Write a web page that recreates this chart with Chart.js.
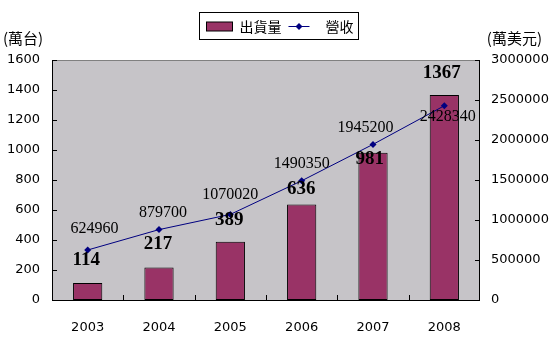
<!DOCTYPE html>
<html>
<head>
<meta charset="utf-8">
<script src="https://cdn.jsdelivr.net/npm/chart.js@4/dist/chart.umd.min.js"></script>
<style>
  html, body { margin: 0; padding: 0; background: #ffffff; }
  #wrap { width: 557px; height: 342px; }
</style>
</head>
<body>
<div id="wrap"><canvas id="chart" width="557" height="342"></canvas></div>
<script>
// Shipments (萬台) and revenue (萬美元) by year
const years = ['2003', '2004', '2005', '2006', '2007', '2008'];
const shipments = [114, 217, 389, 636, 981, 1367];
const revenue = [624960, 879700, 1070020, 1490350, 1945200, 2428340];

// Axis tick values
const shipmentTicks = [0, 200, 400, 600, 800, 1000, 1200, 1400, 1600];
const revenueTicks = [0, 500000, 1000000, 1500000, 2000000, 2500000, 3000000];

const seriesNames = ['出貨量', '營收'];
const unitLeft = '(萬台)';
const unitRight = '(萬美元)';

// Hand placement of the value labels, [dx, dy] in pixels from the mark
const barLabelNudge = [[-1.5, -22.4], [-1.1, -22.9], [-1, -21.1], [-0.4, -15.4], [-3.3, 5.8], [-2.5, -22.3]];
const revenueLabelNudge = [[6.8, -21.2], [3.9, -17.2], [0, -20], [0, -17], [-7.5, -16.5], [3.5, 10.8]];

const BAR_COLOR = '#993366';
const LINE_COLOR = '#000080';
const PLOT_BG = '#C6C4C8';
const CJK_FAMILY = '"Noto Sans CJK TC"';

Chart.defaults.font.family = '"DejaVu Sans"';
Chart.defaults.font.size = 13;
Chart.defaults.color = '#000000';

// Gray plot area behind the marks
const plotBackground = {
  id: 'plotBackground',
  beforeDatasetsDraw(chart) {
    const { ctx, chartArea: a } = chart;
    ctx.save();
    ctx.fillStyle = PLOT_BG;
    ctx.fillRect(a.left, a.top, a.right - a.left, a.bottom - a.top);
    ctx.restore();
  }
};

// Axis lines with inward tick marks
const axisFrame = {
  id: 'axisFrame',
  afterDatasetsDraw(chart) {
    const { ctx, chartArea: a, scales } = chart;
    const t = 5;
    ctx.save();
    ctx.lineWidth = 1;
    ctx.strokeStyle = '#808080';
    ctx.beginPath();
    ctx.moveTo(a.left, a.top + 0.5);
    ctx.lineTo(a.right, a.top + 0.5);
    ctx.stroke();
    ctx.strokeStyle = '#000000';
    ctx.beginPath();
    ctx.moveTo(a.left + 0.5, a.top);
    ctx.lineTo(a.left + 0.5, a.bottom + 0.5);
    ctx.lineTo(a.right - 0.5, a.bottom + 0.5);
    ctx.lineTo(a.right - 0.5, a.top);
    shipmentTicks.forEach(v => {
      const y = Math.round(scales.y.getPixelForValue(v)) + 0.5;
      ctx.moveTo(a.left, y); ctx.lineTo(a.left + t, y);
    });
    revenueTicks.forEach(v => {
      const y = Math.round(scales.y1.getPixelForValue(v)) + 0.5;
      ctx.moveTo(a.right, y); ctx.lineTo(a.right - t, y);
    });
    for (let i = 1; i < years.length; i++) {
      const x = Math.round((scales.x.getPixelForValue(i - 1) + scales.x.getPixelForValue(i)) / 2) + 0.5;
      ctx.moveTo(x, a.bottom); ctx.lineTo(x, a.bottom - t);
    }
    ctx.stroke();
    ctx.restore();
  }
};

// Value labels for bars and line points
const valueLabels = {
  id: 'valueLabels',
  afterDatasetsDraw(chart) {
    const { ctx } = chart;
    ctx.save();
    ctx.fillStyle = '#000000';
    ctx.textAlign = 'center';
    ctx.textBaseline = 'middle';

    ctx.font = 'bold 19px "Liberation Serif"';
    chart.getDatasetMeta(0).data.forEach((el, i) => {
      const [dx, dy] = barLabelNudge[i];
      ctx.fillText(String(shipments[i]), el.x + dx, el.y + dy);
    });

    ctx.font = '16px "Liberation Serif"';
    chart.getDatasetMeta(1).data.forEach((el, i) => {
      const [dx, dy] = revenueLabelNudge[i];
      ctx.fillText(String(revenue[i]), el.x + dx, el.y + dy);
    });
    ctx.restore();
  }
};

// Boxed legend plus unit captions above the axes
const legendAndUnits = {
  id: 'legendAndUnits',
  afterDraw(chart) {
    const { ctx, width } = chart;
    ctx.save();
    ctx.font = '14px ' + CJK_FAMILY;
    ctx.textBaseline = 'middle';
    const w0 = ctx.measureText(seriesNames[0]).width;
    const w1 = ctx.measureText(seriesNames[1]).width;
    const pad = 6, sw = 26, gap = 7, lw = 21, between = 16;
    const boxW = Math.round(pad + sw + gap + w0 + gap + lw + between + w1 + pad);
    const boxH = 27;
    const bx = Math.round((width - boxW) / 2) + 0.5;
    const by = 12.5;
    const cy = Math.round(by + boxH / 2) + 0.5;
    ctx.fillStyle = '#ffffff';
    ctx.fillRect(bx, by, boxW, boxH);
    ctx.strokeStyle = '#000000';
    ctx.lineWidth = 1;
    ctx.strokeRect(bx, by, boxW, boxH);

    let x = Math.round(bx + pad) + 0.5;
    ctx.fillStyle = BAR_COLOR;
    ctx.fillRect(x, cy - 4.5, sw, 9);
    ctx.strokeRect(x, cy - 4.5, sw, 9);
    x += sw + gap;
    ctx.fillStyle = '#000000';
    ctx.textAlign = 'left';
    ctx.fillText(seriesNames[0], x, cy);
    x += w0 + gap;
    ctx.strokeStyle = LINE_COLOR;
    ctx.lineWidth = 1;
    ctx.beginPath();
    ctx.moveTo(x, cy);
    ctx.lineTo(x + lw, cy);
    ctx.stroke();
    const dx = x + lw / 2;
    ctx.fillStyle = LINE_COLOR;
    ctx.beginPath();
    ctx.moveTo(dx, cy - 3.5); ctx.lineTo(dx + 3.5, cy); ctx.lineTo(dx, cy + 3.5); ctx.lineTo(dx - 3.5, cy);
    ctx.closePath();
    ctx.fill();
    x += lw + between;
    ctx.fillStyle = '#000000';
    ctx.fillText(seriesNames[1], x, cy);

    ctx.font = '15px ' + CJK_FAMILY;
    ctx.fillText(unitLeft, 3, 38.5);
    ctx.textAlign = 'right';
    ctx.fillText(unitRight, 542, 38.5);
    ctx.restore();
  }
};

const plainNumber = v => String(v);

new Chart(document.getElementById('chart'), {
  data: {
    labels: years,
    datasets: [
      {
        type: 'bar',
        label: seriesNames[0],
        data: shipments,
        yAxisID: 'y',
        backgroundColor: BAR_COLOR,
        borderColor: '#000000',
        borderWidth: 1,
        borderSkipped: false,
        barPercentage: 0.41,
        categoryPercentage: 1,
        order: 1
      },
      {
        type: 'line',
        label: seriesNames[1],
        data: revenue,
        yAxisID: 'y1',
        borderColor: LINE_COLOR,
        borderWidth: 1,
        backgroundColor: LINE_COLOR,
        pointStyle: 'rectRot',
        pointRadius: 3.5,
        pointBackgroundColor: LINE_COLOR,
        pointBorderColor: LINE_COLOR,
        pointBorderWidth: 0,
        tension: 0,
        order: 0
      }
    ]
  },
  options: {
    responsive: false,
    animation: false,
    devicePixelRatio: 1,
    layout: { padding: { top: 60, left: 0, right: 0, bottom: 0 } },
    plugins: {
      legend: { display: false },
      tooltip: { enabled: false },
      title: { display: false }
    },
    scales: {
      x: {
        type: 'category',
        offset: true,
        grid: { display: false, drawTicks: false },
        border: { display: false },
        ticks: { padding: 20, font: { size: 13 }, color: '#000', maxRotation: 0 },
        afterFit(scale) { scale.height = 42; }
      },
      y: {
        type: 'linear',
        position: 'left',
        min: shipmentTicks[0],
        max: shipmentTicks[shipmentTicks.length - 1],
        grid: { display: false, drawTicks: false },
        border: { display: false },
        ticks: { stepSize: shipmentTicks[1] - shipmentTicks[0], padding: 12, color: '#000', font: { size: 13 }, callback: plainNumber },
        afterBuildTicks(scale) { scale.ticks = shipmentTicks.map(v => ({ value: v })); },
        afterFit(scale) { scale.width = 52; }
      },
      y1: {
        type: 'linear',
        position: 'right',
        min: revenueTicks[0],
        max: revenueTicks[revenueTicks.length - 1],
        grid: { display: false, drawTicks: false },
        border: { display: false },
        ticks: { stepSize: revenueTicks[1] - revenueTicks[0], padding: 11, color: '#000', font: { size: 13 }, callback: plainNumber },
        afterBuildTicks(scale) { scale.ticks = revenueTicks.map(v => ({ value: v })); },
        afterFit(scale) { scale.width = 77; }
      }
    }
  },
  plugins: [plotBackground, axisFrame, valueLabels, legendAndUnits]
});
</script>
</body>
</html>
